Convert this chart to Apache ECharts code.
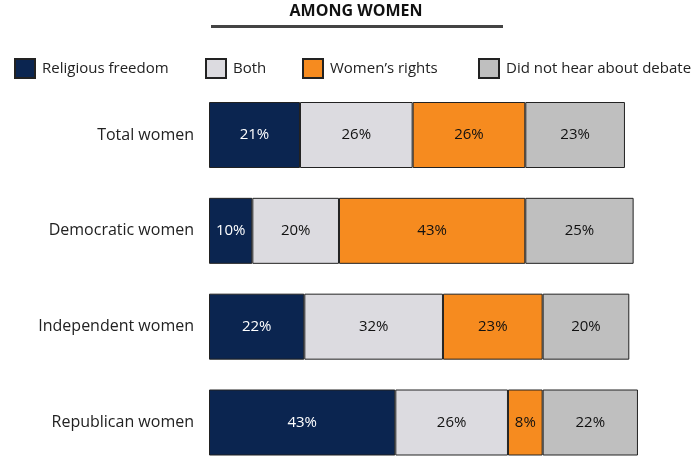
<!DOCTYPE html>
<html><head><meta charset="utf-8">
<script src="https://cdn.jsdelivr.net/npm/echarts@6/dist/echarts.min.js"></script>
<style>html,body{margin:0;padding:0;background:#fff}#c{width:695px;height:456px}</style>
</head><body><div id="c"></div>
<script>
const categories = ["Total women", "Democratic women", "Independent women", "Republican women"];
const seriesNames = ["Religious freedom", "Both", "Women\u2019s rights", "Did not hear about debate"];
const religiousFreedom = [21, 10, 22, 43];
const both = [26, 20, 32, 26];
const womensRights = [26, 43, 23, 8];
const didNotHear = [23, 25, 20, 22];
const colors = ["#0b2550", "#dcdbe0", "#f68b1f", "#bfbfbf"];
const labelColors = ["#ffffff", "#111111", "#111111", "#111111"];
const legendLeft = [14, 205, 302, 478];

const values = [religiousFreedom, both, womensRights, didNotHear];
const font = "'Open Sans', 'Noto Sans', sans-serif";

const chart = echarts.init(document.getElementById('c'), null, {renderer: 'canvas'});
chart.setOption({
  animation: false,
  textStyle: {fontFamily: font},
  title: {
    text: "AMONG WOMEN", left: 356, top: 0, textAlign: 'center', padding: [3, 0, 0, 0],
    textStyle: {fontFamily: font, fontSize: 16, fontWeight: 'bold', color: '#111'}
  },
  graphic: [{
    type: 'line', shape: {x1: 211, y1: 26.5, x2: 503, y2: 26.5},
    style: {stroke: '#444', lineWidth: 3}
  }],
  legend: seriesNames.map((n, i) => ({
    data: [n], left: legendLeft[i], top: 58, itemWidth: 20, itemHeight: 19,
    padding: 0, icon: 'rect', selectedMode: false,
    textStyle: {fontFamily: font, fontSize: 15, color: '#222', padding: [0, 0, 0, 2]}
  })),
  grid: {left: 209, top: 135, width: 433.3, height: 287.5, containLabel: false},
  xAxis: {type: 'value', min: 0, max: 100, show: false},
  yAxis: {
    type: 'category', data: categories, inverse: true, boundaryGap: false,
    axisLine: {show: false}, axisTick: {show: false}, splitLine: {show: false},
    axisLabel: {fontFamily: font, fontSize: 16, color: '#222', margin: 15}
  },
  series: values.map((v, i) => ({
    name: seriesNames[i], type: 'bar', stack: 'total', data: v,
    barWidth: 66,
    itemStyle: {color: colors[i], borderColor: '#222', borderWidth: 1},
    label: {show: true, position: 'inside', formatter: '{c}%', fontFamily: font, fontSize: 15, color: labelColors[i]}
  }))
});
</script></body></html>
